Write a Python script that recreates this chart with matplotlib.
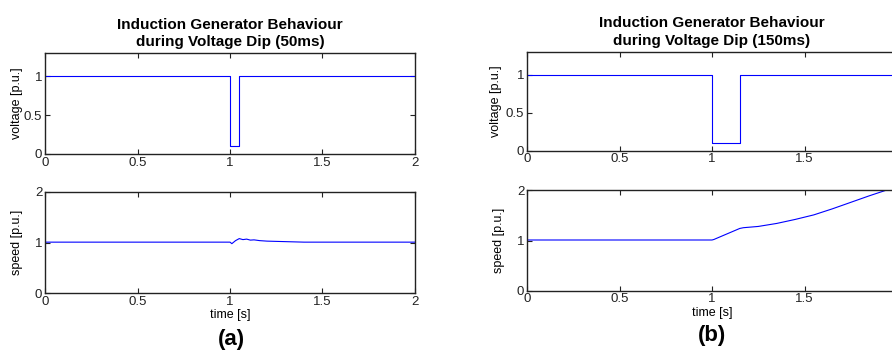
import matplotlib
matplotlib.use("Agg")
import matplotlib.pyplot as plt

plt.rcParams['font.family'] = ['Liberation Sans', 'DejaVu Sans']

# ---- data ----
t_volt_a = [0.0, 1.0, 1.0, 1.05, 1.05, 2.0]
v_volt_a = [1.0, 1.0, 0.1, 0.1, 1.0, 1.0]

t_speed_a = [0.0, 1.0, 1.01, 1.03, 1.05, 1.07, 1.09, 1.11, 1.13, 1.16, 1.20, 1.25, 1.30, 1.40, 2.0]
v_speed_a = [1.01, 1.01, 0.98, 1.04, 1.08, 1.06, 1.07, 1.05, 1.055, 1.04, 1.03, 1.025, 1.02, 1.01, 1.01]

t_volt_b = [0.0, 1.0, 1.0, 1.15, 1.15, 2.0]
v_volt_b = [1.0, 1.0, 0.1, 0.1, 1.0, 1.0]

t_speed_b = [0.0, 1.0, 1.01, 1.15, 1.17, 1.25, 1.35, 1.45, 1.55, 1.65, 1.75, 1.85, 1.94, 2.0]
v_speed_b = [1.01, 1.01, 1.02, 1.24, 1.255, 1.28, 1.34, 1.42, 1.51, 1.63, 1.76, 1.89, 2.0, 2.09]

xticks = [0, 0.5, 1, 1.5, 2]
xticklabels_a = ['0', '0.5', '1', '1.5', '2']
xticklabels_b = ['0', '0.5', '1', '1.5', '']   # last label falls outside the picture
volt_yticks = [0, 0.5, 1]
volt_yticklabels = ['0', '0.5', '1']
speed_yticks = [0, 1, 2]
speed_yticklabels = ['0', '1', '2']

titles = ["Induction Generator Behaviour\nduring Voltage Dip (50ms)",
          "Induction Generator Behaviour\nduring Voltage Dip (150ms)"]
panel_labels = ['(a)', '(b)']

W, H = 892, 352
fig = plt.figure(figsize=(W / 100, H / 100), dpi=100)


def rect(x0, x1, ytop, ybot):
    return [x0 / W, 1 - ybot / H, (x1 - x0) / W, (ybot - ytop) / H]


def style(ax, xtl):
    ax.tick_params(direction='in', top=True, right=True, length=3.5, width=0.8,
                   labelsize=9.5, pad=2, colors='#222222')
    for s in ax.spines.values():
        s.set_linewidth(1.0)
        s.set_color('#222222')
    ax.set_xlim(0, 2)
    ax.set_xticks(xticks)
    ax.set_xticklabels(xtl)


axes_rects = [
    (rect(45, 415, 53, 154), rect(45, 415, 192, 293.3)),
    (rect(527, 897, 51.7, 150.7), rect(527, 897, 190.3, 290.7)),
]
volt_data = [(t_volt_a, v_volt_a), (t_volt_b, v_volt_b)]
speed_data = [(t_speed_a, v_speed_a), (t_speed_b, v_speed_b)]
xtls = [xticklabels_a, xticklabels_b]
label_x = [231, 712]
label_y = [340, 336]
volt_label_x = [-0.0595, -0.0676]
speed_label_x = [-0.0595, -0.0595]

for i in range(2):
    r_top, r_bot = axes_rects[i]
    ax1 = fig.add_axes(r_top)
    ax1.plot(volt_data[i][0], volt_data[i][1], color='blue', lw=0.8)
    style(ax1, xtls[i])
    ax1.set_ylim(0, 1.3)
    ax1.set_yticks(volt_yticks)
    ax1.set_yticklabels(volt_yticklabels)
    ax1.set_ylabel('voltage [p.u.]', fontsize=9)
    ax1.yaxis.set_label_coords(volt_label_x[i], 0.5)
    ax1.set_title(titles[i], fontsize=11, fontweight='bold', pad=5, linespacing=1.3)

    ax2 = fig.add_axes(r_bot)
    ax2.plot(speed_data[i][0], speed_data[i][1], color='blue', lw=0.8)
    style(ax2, xtls[i])
    ax2.set_ylim(0, 2)
    ax2.set_yticks(speed_yticks)
    ax2.set_yticklabels(speed_yticklabels)
    ax2.set_ylabel('speed [p.u.]', fontsize=9)
    ax2.yaxis.set_label_coords(speed_label_x[i], 0.5)
    ax2.set_xlabel('time [s]', fontsize=9, labelpad=1)

    fig.text(label_x[i] / W, 1 - label_y[i] / H, panel_labels[i], fontsize=16,
             fontweight='bold', ha='center', va='center')

fig.savefig('out.png', dpi=100)
